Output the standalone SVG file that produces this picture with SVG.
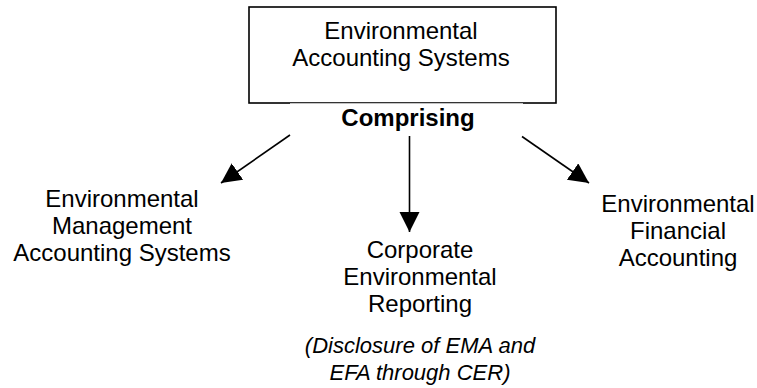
<svg xmlns="http://www.w3.org/2000/svg" width="757" height="388" viewBox="0 0 757 388">
  <style>
    text { font-family: "Liberation Sans", Arial, sans-serif; fill: #000; text-anchor: middle; }
    .lbl { font-size: 24px; }
    .bold { font-size: 24px; font-weight: bold; }
    .note { font-size: 22px; font-style: italic; }
    .box { fill: #fff; stroke: #000; stroke-width: 1.6; }
    .conn { stroke: #000; stroke-width: 1.6; fill: none; marker-end: url(#head); }
  </style>
  <defs>
    <marker id="head" markerUnits="userSpaceOnUse" markerWidth="21" markerHeight="21" refX="20" refY="10" orient="auto">
      <path d="M0,0 L20,10 L0,20 Z" fill="#000"/>
    </marker>
  </defs>

  <rect x="0" y="0" width="757" height="388" fill="#fff"/>

  <!-- top node -->
  <g id="eas">
    <rect class="box" x="249" y="7" width="307" height="96"/>
    <text class="lbl" x="401" y="39">Environmental</text>
    <text class="lbl" x="401" y="66">Accounting Systems</text>
  </g>

  <!-- caption under the top node -->
  <g id="comprising">
    <rect x="290" y="103.3" width="233" height="28" fill="#fff"/>
    <text class="bold" x="408" y="126">Comprising</text>
  </g>

  <!-- connectors -->
  <g id="connectors">
    <line class="conn" x1="290" y1="135" x2="221" y2="183"/>
    <line class="conn" x1="409.5" y1="136" x2="409.5" y2="232"/>
    <line class="conn" x1="522" y1="136.5" x2="589" y2="183"/>
  </g>

  <!-- left node -->
  <g id="emas">
    <text class="lbl" x="122" y="207">Environmental</text>
    <text class="lbl" x="122" y="234">Management</text>
    <text class="lbl" x="122" y="261">Accounting Systems</text>
  </g>

  <!-- centre node -->
  <g id="cer">
    <text class="lbl" x="420" y="258">Corporate</text>
    <text class="lbl" x="420" y="285">Environmental</text>
    <text class="lbl" x="420" y="312">Reporting</text>
    <text class="note" x="420" y="353">(Disclosure of EMA and</text>
    <text class="note" x="420" y="380">EFA through CER)</text>
  </g>

  <!-- right node -->
  <g id="efa">
    <text class="lbl" x="678" y="212">Environmental</text>
    <text class="lbl" x="678" y="239">Financial</text>
    <text class="lbl" x="678" y="266">Accounting</text>
  </g>
</svg>
